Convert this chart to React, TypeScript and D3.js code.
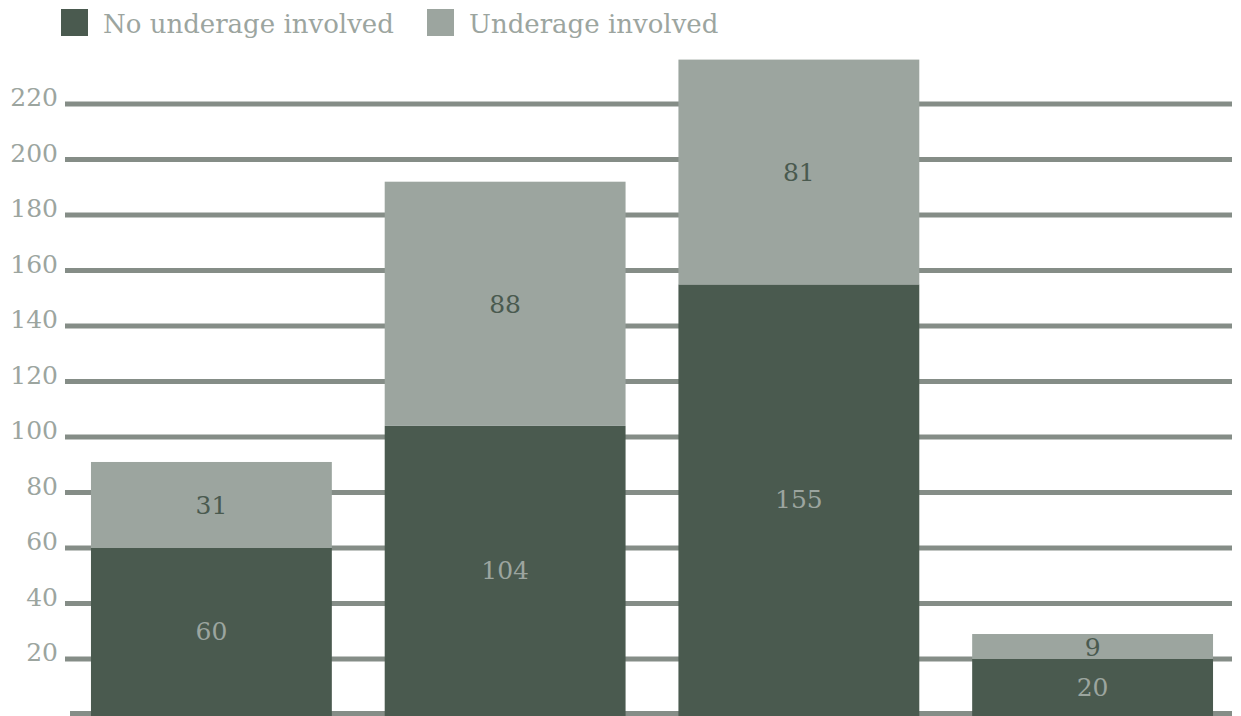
import * as d3 from "d3";
import { useEffect } from "react";

const categories = ["A", "B", "C", "D"];
const noUnderage = [60, 104, 155, 20];
const underage = [31, 88, 81, 9];
const seriesNames = ["No underage involved", "Underage involved"];
const yTicks = [20, 40, 60, 80, 100, 120, 140, 160, 180, 200, 220];

const dark = "#4a5a4f";
const light = "#9ca59f";
const grid = "#858d87";
const font = "'DejaVu Serif', serif";

export default function App() {
  useEffect(() => {
    document.body.style.margin = "0";
  }, []);

  const width = 1241;
  const height = 716;

  const x = d3
    .scaleBand<string>()
    .domain(categories)
    .range([66, 1238])
    .paddingInner(0.18)
    .paddingOuter(0.085);
  const y = d3.scaleLinear().domain([0, 220]).range([714.5, 104]);

  const rows = categories.map((c, i) => ({ cat: c, no: noUnderage[i], yes: underage[i] }));
  const stack = d3.stack<(typeof rows)[number]>().keys(["no", "yes"] as any)(rows as any);
  const colors = [dark, light];
  const textColors = [light, dark];
  const legendX = [61, 427];

  return (
    <svg width={width} height={height} style={{ display: "block", background: "#fff" }}>
      <g>
        {yTicks.map((t) => (
          <g key={t}>
            <line x1={65} x2={1232} y1={y(t)} y2={y(t)} stroke={grid} strokeWidth={5} />
            <text
              x={58}
              y={y(t) + 2}
              textAnchor="end"
              fontFamily={font}
              fontSize={25}
              fill={light}
            >
              {t}
            </text>
          </g>
        ))}
        <line x1={70} x2={1232} y1={y(0) - 1} y2={y(0) - 1} stroke={grid} strokeWidth={5} />
      </g>
      {stack.map((layer, si) => (
        <g key={si}>
          {layer.map((d, i) => {
            const x0 = x(categories[i]) ?? 0;
            const top = y(d[1]);
            const bottom = si === 0 ? height : y(d[0]);
            const mid = (y(d[0]) + y(d[1])) / 2;
            return (
              <g key={i}>
                <rect x={x0} y={top} width={x.bandwidth()} height={bottom - top} fill={colors[si]} />
                <text
                  x={x0 + x.bandwidth() / 2}
                  y={mid}
                  dy="0.36em"
                  textAnchor="middle"
                  fontFamily={font}
                  fontSize={25}
                  fill={textColors[si]}
                >
                  {d[1] - d[0]}
                </text>
              </g>
            );
          })}
        </g>
      ))}
      <g>
        {seriesNames.map((name, i) => (
          <g key={name} transform={`translate(${legendX[i]},9)`}>
            <rect width={27} height={27} fill={colors[i]} />
            <text x={42} y={24} fontFamily={font} fontSize={26} fill={light}>
              {name}
            </text>
          </g>
        ))}
      </g>
    </svg>
  );
}
